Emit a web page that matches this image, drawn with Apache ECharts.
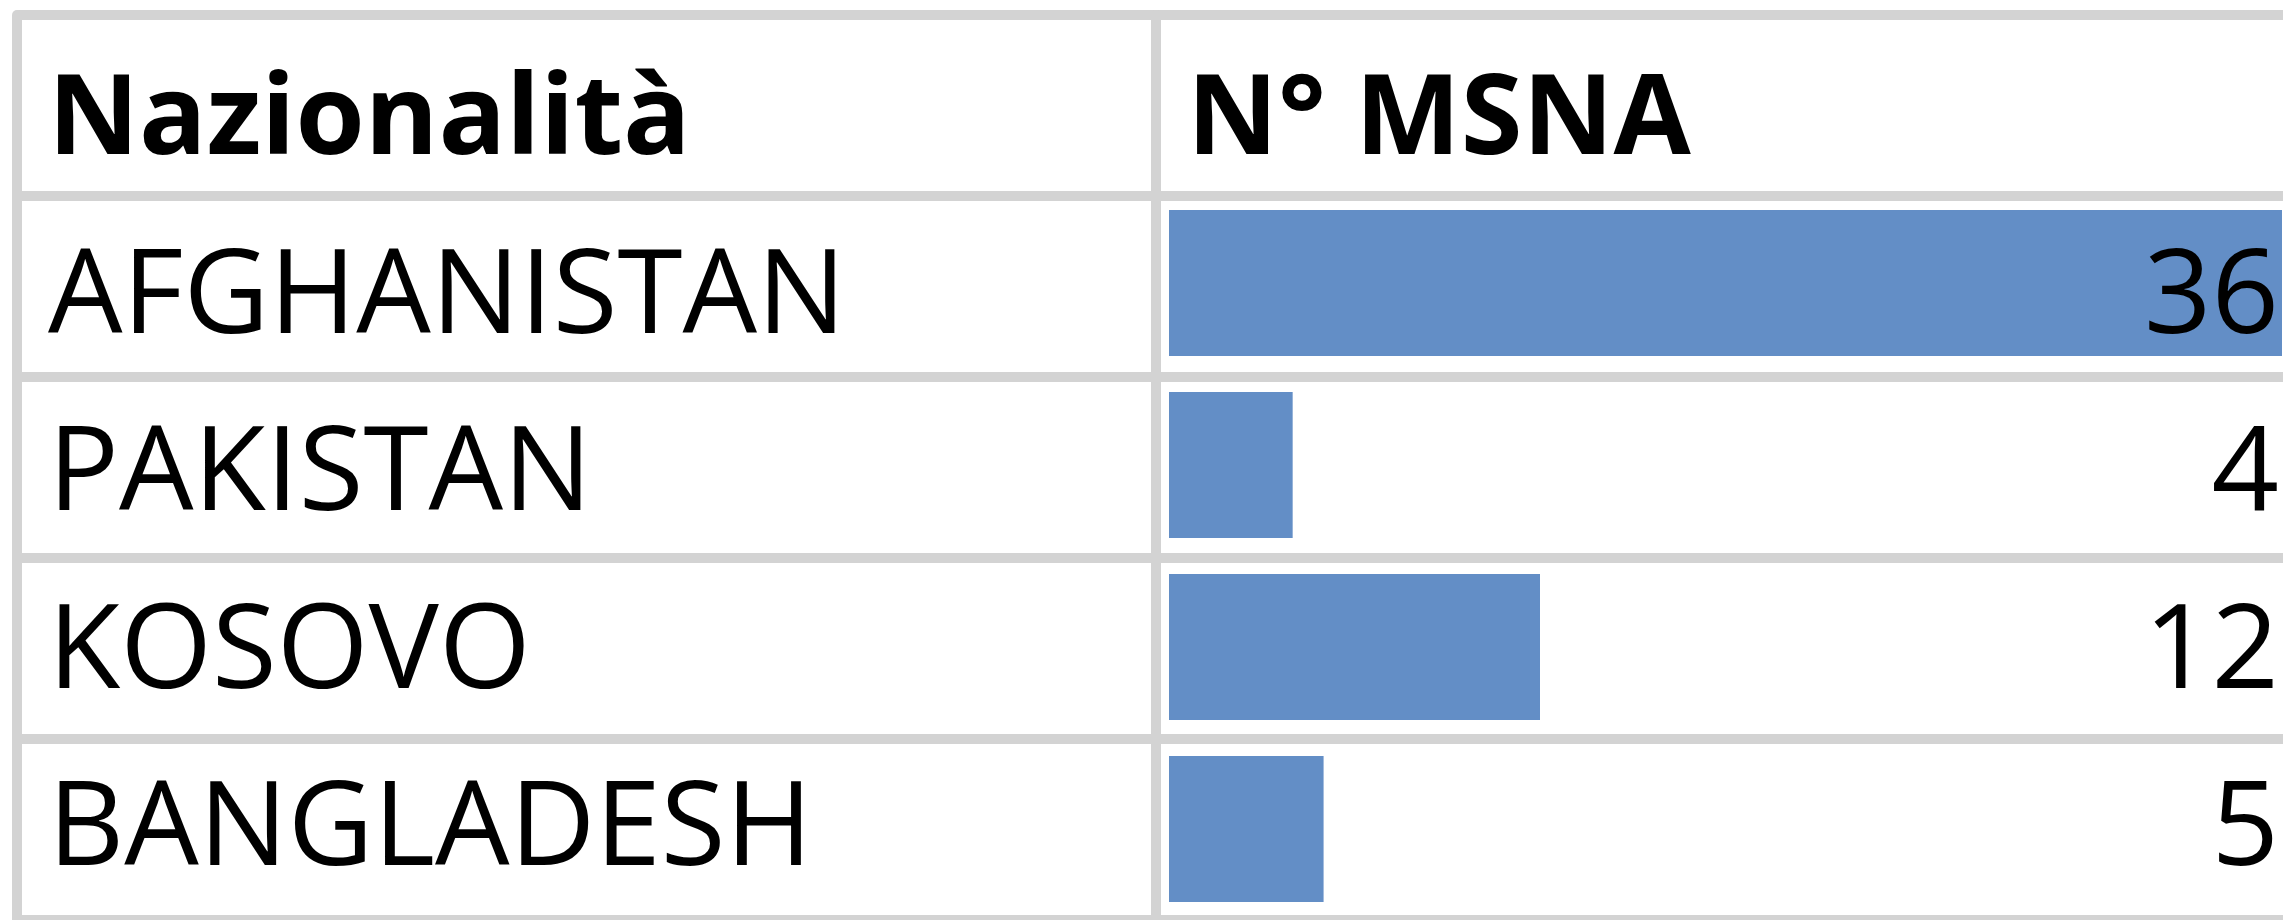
<!DOCTYPE html>
<html>
<head>
<meta charset="utf-8">
<script src="https://cdn.jsdelivr.net/npm/echarts@6/dist/echarts.min.js"></script>
<style>
  html, body { margin: 0; padding: 0; background: #ffffff; }
  #chart { width: 2283px; height: 920px; }
</style>
</head>
<body>
<div id="chart"></div>
<script>
// ---- data ----
const headerLabel = 'Nazionalità';
const headerValue = 'N° MSNA';
const countries = ['AFGHANISTAN', 'PAKISTAN', 'KOSOVO', 'BANGLADESH'];
const values = [36, 4, 12, 5];
const valueMax = 36;

// ---- styles ----
const FONT = '"Open Sans", "Noto Sans", sans-serif';
const FS = 118;
const FS_HEAD = 112;
const GRID_COLOR = '#d3d3d3';
const BAR_COLOR = '#638ec6';

const rowKeys = [headerLabel].concat(countries);
const leftLabelData = [{ value: headerLabel, textStyle: { fontWeight: 'bold', fontSize: FS_HEAD } }]
  .concat(countries.map(c => ({ value: c })));
const midLabelData = [{ value: headerValue, textStyle: { fontWeight: 'bold', fontSize: FS_HEAD } }]
  .concat(countries.map(() => ({ value: '' })));
const rightLabelData = [''].concat(values.map(v => String(v)));
const seriesData = ['-'].concat(values);

const labelBase = {
  inside: true, color: '#000000', fontFamily: FONT, fontSize: FS,
  fontWeight: 'normal', verticalAlign: 'middle'
};
const noLine = { show: false };

const chart = echarts.init(document.getElementById('chart'), null, { renderer: 'canvas' });
chart.setOption({
  animation: false,
  backgroundColor: '#ffffff',
  grid: [
    // 0: table rules (left border + row rules across full width)
    { left: 17, right: -20, top: 15, height: 909 },
    // 1: bars column
    { left: 1169, right: 1, top: 10, height: 910 },
    // 2: column divider
    { left: 1156, width: 600, top: 15, height: 909 },
    // 3: first-column text (bottom-aligned like the sheet cells)
    { left: 17, width: 1139, top: 33, height: 909 },
    // 4: second-column text
    { left: 1156, right: 1, top: 33, height: 909 }
  ],
  xAxis: [
    { type: 'value', gridIndex: 0, show: false, min: 0, max: 1 },
    { type: 'value', gridIndex: 1, show: false, min: 0, max: valueMax },
    { type: 'value', gridIndex: 2, show: false, min: 0, max: 1 },
    { type: 'value', gridIndex: 3, show: false, min: 0, max: 1 },
    { type: 'value', gridIndex: 4, show: false, min: 0, max: 1 }
  ],
  yAxis: [
    { // 0 rules
      type: 'category', gridIndex: 0, inverse: true, data: rowKeys,
      axisLine: { show: true, lineStyle: { color: GRID_COLOR, width: 10 } },
      axisTick: noLine, axisLabel: noLine,
      splitLine: { show: true, lineStyle: { color: GRID_COLOR, width: 10 } },
      z: 1
    },
    { // 1 bars
      type: 'category', gridIndex: 1, inverse: true, data: rowKeys,
      show: false
    },
    { // 2 divider
      type: 'category', gridIndex: 2, inverse: true, data: rowKeys,
      axisLine: { show: true, lineStyle: { color: GRID_COLOR, width: 10 } },
      axisTick: noLine, axisLabel: noLine, splitLine: noLine,
      z: 1
    },
    { // 3 first column labels
      type: 'category', gridIndex: 3, inverse: true, data: leftLabelData,
      axisLine: noLine, axisTick: noLine, splitLine: noLine,
      axisLabel: Object.assign({}, labelBase, { margin: 31 }),
      z: 5
    },
    { // 4 header of second column
      type: 'category', gridIndex: 4, inverse: true, position: 'left', data: midLabelData,
      axisLine: noLine, axisTick: noLine, splitLine: noLine,
      axisLabel: Object.assign({}, labelBase, { margin: 31 }),
      z: 5
    },
    { // 5 value labels, right aligned in the cell
      type: 'category', gridIndex: 4, inverse: true, position: 'right', data: rightLabelData,
      axisLine: noLine, axisTick: noLine, splitLine: noLine,
      axisLabel: Object.assign({}, labelBase, { margin: 3 }),
      z: 5
    }
  ],
  series: [
    {
      type: 'bar',
      xAxisIndex: 1, yAxisIndex: 1,
      data: seriesData,
      barWidth: 146,
      itemStyle: { color: BAR_COLOR },
      z: 2
    }
  ]
});
</script>
</body>
</html>
